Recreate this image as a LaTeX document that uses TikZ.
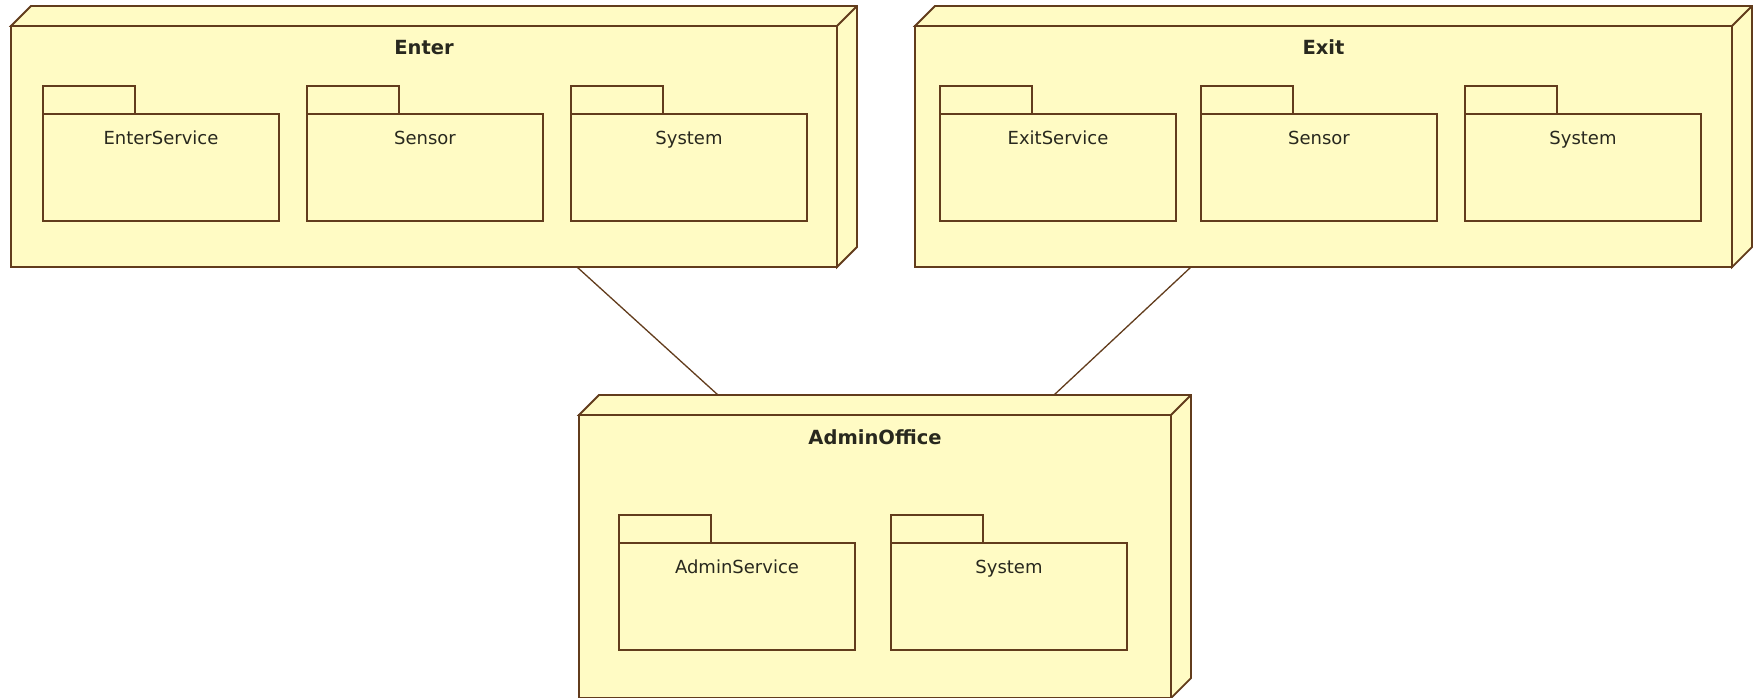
\documentclass[tikz,border=0pt]{standalone}
\usepackage{fontspec}
\setmainfont{DejaVu Sans}
\definecolor{edgec}{RGB}{98,60,28}
\definecolor{fillc}{RGB}{255,251,196}
\definecolor{textc}{RGB}{40,40,30}
\tikzset{
  depnode/.style={draw=edgec, fill=fillc, line width=1.8pt, anchor=north west, inner sep=0pt, outer sep=0pt},
  sideface/.style={draw=edgec, fill=fillc, line width=1.8pt, line join=miter},
  pkgbody/.style={draw=edgec, fill=fillc, line width=1.8pt, anchor=north west, inner sep=0pt, outer sep=0pt, minimum width=236pt, minimum height=107pt},
  pkgtab/.style={draw=edgec, fill=fillc, line width=1.8pt},
  titletext/.style={font=\fontsize{19.5}{22}\selectfont\bfseries, text=textc, inner sep=0pt, anchor=base},
  pkgtext/.style={font=\fontsize{18}{20}\selectfont, text=textc, inner sep=0pt, anchor=base},
  conn/.style={draw=edgec, line width=1.3pt}
}
\newcommand\threed[1]{%
  \draw[sideface] (#1.north west) -- ++(20,-20) -- ([shift={(20pt,20pt)}]#1.north east) -- ([shift={(20pt,20pt)}]#1.south east) -- (#1.south east) -- (#1.north east) -- cycle;
  \draw[sideface] (#1.north east) -- ++(20,-20);
}
\newcommand\pkg[4]{% name, x, y, label
  \node[pkgbody] (#1) at (#2,#3) {};
  \draw[pkgtab] (#1.north west) rectangle ++(92,-28);
  \node[pkgtext] (#1l) at ([yshift=-30.5pt]#1.north) {#4};
}
\begin{document}
\begin{tikzpicture}[x=1pt,y=-1pt]
\useasboundingbox[fill=white] (0,0) rectangle (1758,698);

% Enter node
\node[depnode, minimum width=826pt, minimum height=241pt] (enter) at (11,26) {};
\threed{enter}
\node[titletext] (entert) at ([yshift=-28.5pt]enter.north) {Enter};
\pkg{ensvc}{43}{114}{EnterService}
\pkg{ensens}{307}{114}{Sensor}
\pkg{ensys}{571}{114}{System}

% Exit node
\node[depnode, minimum width=817pt, minimum height=241pt] (exit) at (915,26) {};
\threed{exit}
\node[titletext] (exitt) at ([yshift=-28.5pt]exit.north) {Exit};
\pkg{exsvc}{940}{114}{ExitService}
\pkg{exsens}{1201}{114}{Sensor}
\pkg{exsys}{1465}{114}{System}

% AdminOffice node
\node[depnode, minimum width=592pt, minimum height=283pt] (admin) at (579,415) {};
\threed{admin}
\node[titletext] (admint) at ([yshift=-29.5pt]admin.north) {AdminOffice};
\pkg{adsvc}{619}{543}{AdminService}
\pkg{adsys}{891}{543}{System}

% connectors
\draw[conn] ([xshift=566pt]enter.south west) -- ([shift={(139pt,20pt)}]admin.north west);
\draw[conn] ([xshift=276pt]exit.south west) -- ([shift={(475pt,20pt)}]admin.north west);
\end{tikzpicture}
\end{document}
